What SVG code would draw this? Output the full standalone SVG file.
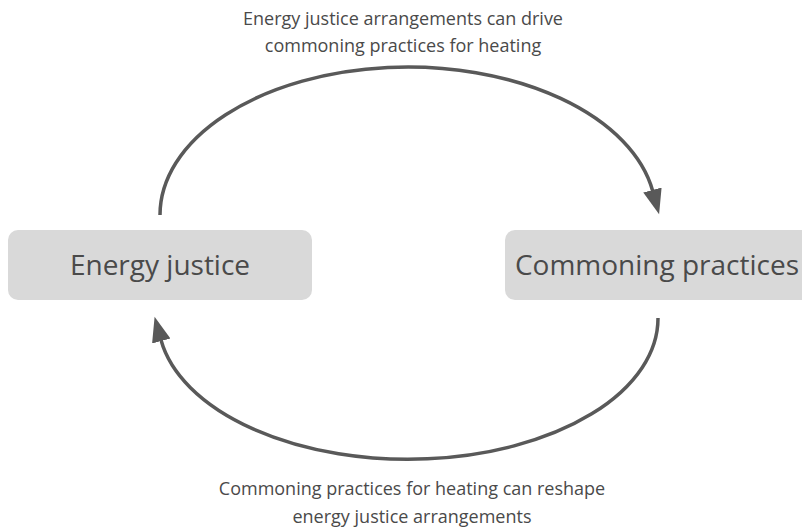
<svg xmlns="http://www.w3.org/2000/svg" width="802" height="529" viewBox="0 0 802 529">
<style>
.node{fill:#d9d9d9;}
.nt{font-family:"Open Sans",sans-serif;font-size:28px;fill:#4a4a4a;text-anchor:middle;}
.lbl{font-family:"Open Sans",sans-serif;font-size:18px;fill:#4a4a4a;text-anchor:middle;}
.conn{fill:none;stroke:#595959;stroke-width:3.5;}
</style>
<defs>
<marker id="ah" markerUnits="userSpaceOnUse" markerWidth="26" markerHeight="20" refX="1" refY="9.5" orient="auto" viewBox="0 0 26 20">
<path d="M0,0 L25,9.5 L0,19 z" fill="#595959"/>
</marker>
</defs>
<g id="connectors">
<path class="conn" d="M160,215 A248,148 0 0 1 652.7,191" marker-end="url(#ah)"/>
<path class="conn" d="M658,318 A250,141 0 0 1 161,340" marker-end="url(#ah)"/>
</g>
<g id="node-energy-justice">
<rect class="node" x="8" y="230" width="304" height="70" rx="10"/>
<text class="nt" x="160" y="275">Energy justice</text>
</g>
<g id="node-commoning-practices">
<rect class="node" x="505" y="230" width="310" height="70" rx="10"/>
<text class="nt" x="657" y="275">Commoning practices</text>
</g>
<g id="label-top">
<text class="lbl" x="403" y="25">Energy justice arrangements can drive</text>
<text class="lbl" x="403" y="52">commoning practices for heating</text>
</g>
<g id="label-bottom">
<text class="lbl" x="412" y="495">Commoning practices for heating can reshape</text>
<text class="lbl" x="412" y="523">energy justice arrangements</text>
</g>
</svg>
